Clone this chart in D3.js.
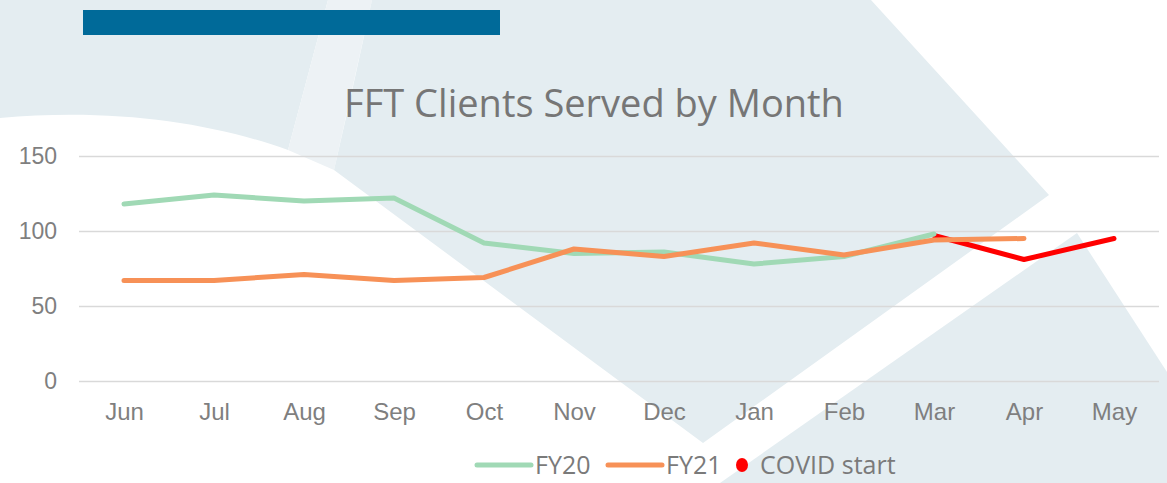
<!DOCTYPE html>
<html>
<head>
<meta charset="utf-8">
<script src="https://cdn.jsdelivr.net/npm/d3@7"></script>
<style>
  html, body { margin: 0; padding: 0; background: #fff; }
  svg { display: block; font-family: "Open Sans", "Liberation Sans", sans-serif; }
  .tick text { fill: #7f7f7f; font-size: 23px; }
  .xaxis .tick text { font-size: 24px; }
</style>
</head>
<body>
<svg id="chart" width="1167" height="483"></svg>
<script>
const months = ["Jun","Jul","Aug","Sep","Oct","Nov","Dec","Jan","Feb","Mar","Apr","May"];
const fy20 = [118,124,120,122,92,85,86,78,83,98];
const fy21 = [67,67,71,67,69,88,83,92,84,94,95];
const covidMonths = ["Mar","Apr","May"];
const covidValues = [97,81,95];
const yTicks = [0,50,100,150];
const legendNames = ["FY20","FY21","COVID start"];
const legendColors = ["#a0d9b5","#f79157","#ff0000"];

const width = 1167, height = 483;
const margin = {top:156, right:8, bottom:102, left:79};

const svg = d3.select("#chart");

// watermark shapes in the background
const bg = svg.append("g");
bg.append("path")
  .attr("d","M0,0 L328,0 L288,150 C210,122 110,108 0,118 Z")
  .attr("fill","#e4edf1");
bg.append("path")
  .attr("d","M328,0 L372,0 L334,170 L288,150 Z")
  .attr("fill","#edf2f5");
bg.append("path")
  .attr("d","M372,0 L871,0 L1049,195 L703,443 L334,170 L350,100 Z")
  .attr("fill","#e4edf1");
bg.append("path")
  .attr("d","M1077,233 L1167,372 L1167,483 L720,483 Z")
  .attr("fill","#e4edf1");

svg.append("rect")
   .attr("x",83).attr("y",10)
   .attr("width",417).attr("height",25)
   .attr("fill","#006a99");

svg.append("text")
   .attr("x",594).attr("y",117)
   .attr("text-anchor","middle")
   .attr("fill","#767676")
   .style("font-size","38px")
   .text("FFT Clients Served by Month");

const x = d3.scalePoint()
            .domain(months)
            .range([margin.left, width-margin.right])
            .padding(0.5);
const y = d3.scaleLinear()
            .domain([0,150])
            .range([height-margin.bottom, margin.top]);

// gridlines + y labels
svg.append("g")
   .attr("transform","translate("+margin.left+",0)")
   .call(d3.axisLeft(y).tickValues(yTicks).tickSize(-(width-margin.right-margin.left)).tickPadding(22))
   .call(g=>g.select(".domain").remove())
   .call(g=>g.selectAll(".tick line").attr("stroke","#d9d9d9").attr("stroke-width",1.5));

svg.append("g")
   .attr("class","xaxis")
   .attr("transform","translate(0,"+(height-margin.bottom)+")")
   .call(d3.axisBottom(x).tickSize(0).tickPadding(22))
   .call(g=>g.select(".domain").remove());

const line = d3.line()
               .x(d=>x(d.m))
               .y(d=>y(d.v));

const covidData = covidMonths.map((m,i)=>({m:m,v:covidValues[i]}));
const fy20Data = fy20.map((v,i)=>({m:months[i],v:v}));
const fy21Data = fy21.map((v,i)=>({m:months[i],v:v}));

[[covidData,legendColors[2]],[fy20Data,legendColors[0]],[fy21Data,legendColors[1]]].forEach(s=>{
  svg.append("path")
     .datum(s[0])
     .attr("d",line)
     .attr("fill","none")
     .attr("stroke",s[1])
     .attr("stroke-width",5)
     .attr("stroke-linejoin","round")
     .attr("stroke-linecap","round");
});

// legend
const legendX = [477,608,735];
const legend = svg.append("g").attr("transform","translate(0,465)");
const items = legend.selectAll("g").data(legendNames).enter()
                    .append("g")
                    .attr("transform",(d,i)=>"translate("+legendX[i]+",0)");
items.each(function(d,i){
  const g = d3.select(this);
  if(i<2){
    g.append("line").attr("x1",0).attr("x2",54).attr("y1",0).attr("y2",0)
     .attr("stroke",legendColors[i]).attr("stroke-width",5).attr("stroke-linecap","round");
  } else {
    g.append("ellipse").attr("cx",7).attr("cy",0).attr("rx",6).attr("ry",7)
     .attr("fill",legendColors[i]);
  }
});
items.append("text")
     .attr("x",(d,i)=>i<2?58:25)
     .attr("y",9)
     .attr("fill","#7a7a7a")
     .style("font-size","25px")
     .text(d=>d);
</script>
</body>
</html>
